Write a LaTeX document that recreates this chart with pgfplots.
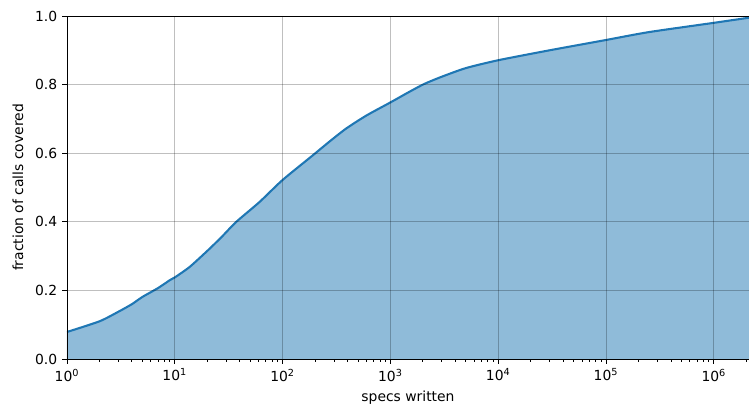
\documentclass[border=0pt]{standalone}
\usepackage{pgfplots}
\pgfplotsset{compat=1.18}
\usepackage{fontspec}
\setmainfont{DejaVu Sans}
\definecolor{tabblue}{RGB}{31,119,180}
\pgfplotstableread{
x y
1 0.079
2 0.110
3 0.138
4 0.160
5 0.181
7 0.207
9 0.230
10 0.238
13.8 0.269
21.1 0.322
28 0.360
37.2 0.400
61.2 0.458
100 0.522
191 0.594
270 0.633
389 0.672
600 0.710
1000 0.748
1500 0.779
2065 0.802
3000 0.823
5000 0.848
10000 0.871
30000 0.900
100000 0.930
250000 0.953
1000000 0.980
2120000 0.995
}\cdf
\begin{document}
\begin{tikzpicture}
\begin{axis}[
  name=ax,
  xmode=log,
  scale only axis,
  width=491pt, height=247pt,
  xmin=1, xmax=2.12e6, ymin=0, ymax=1,
  axis on top,
  grid=major,
  major grid style={black, opacity=0.25, line width=0.6pt},
  xtick={1,10,100,1000,10000,100000,1000000},
  xticklabels={10\textsuperscript{0},10\textsuperscript{1},10\textsuperscript{2},10\textsuperscript{3},10\textsuperscript{4},10\textsuperscript{5},10\textsuperscript{6}},
  minor xtick={2,3,4,5,6,7,8,9,20,30,40,50,60,70,80,90,200,300,400,500,600,700,800,900,2000,3000,4000,5000,6000,7000,8000,9000,20000,30000,40000,50000,60000,70000,80000,90000,200000,300000,400000,500000,600000,700000,800000,900000,2000000},
  ytick={0,0.2,0.4,0.6,0.8,1.0},
  yticklabel style={/pgf/number format/.cd, fixed, fixed zerofill, precision=1},
  /pgf/number format/assume math mode=true,
  tick align=outside,
  major tick length=3.5pt, minor tick length=2pt,
  every tick/.style={black, line width=0.6pt},
  xtick pos=bottom, ytick pos=left,
  axis line style={black, line width=0.6pt},
  xlabel={specs written},
  ylabel={fraction of calls covered},
  xlabel style={at={(axis description cs:0.5,0)}, anchor=center, yshift=-28pt},
  ylabel style={at={(axis description cs:0,0.5)}, anchor=center, yshift=35.3pt},
]
\addplot[draw=none, fill=tabblue, fill opacity=0.5, smooth, tension=0.4] table {\cdf} \closedcycle;
\addplot[tabblue, line width=1.5pt, smooth, tension=0.4] table {\cdf};
\end{axis}
\pgfresetboundingbox
\path[use as bounding box] ([xshift=-48.2pt,yshift=-33.8pt]ax.south west) rectangle ([yshift=11.5pt]ax.north east);
\end{tikzpicture}
\end{document}
